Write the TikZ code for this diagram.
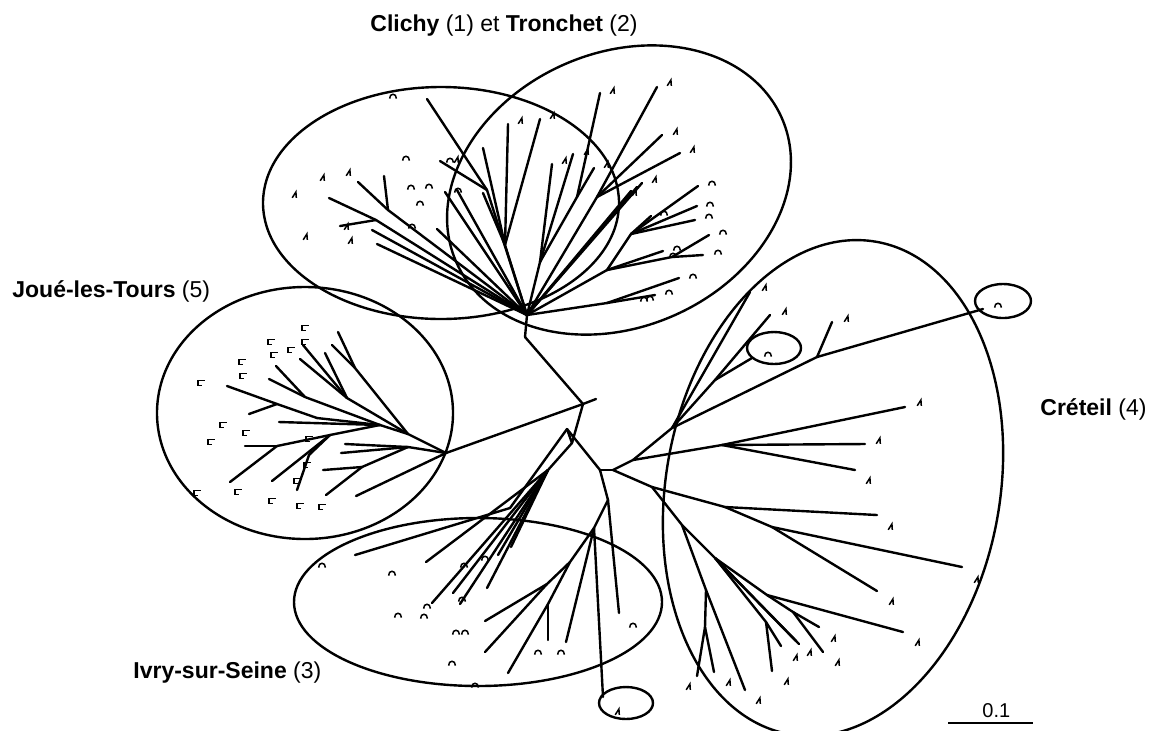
\documentclass[tikz,border=0pt]{standalone}
\usepackage{fontspec}
\setmainfont{Liberation Sans}
\begin{document}
\begin{tikzpicture}[x=0.5pt,y=-0.5pt,
  tree/.style={line width=1.2pt,line cap=round},
  ell/.style={line width=1.2pt},
  marklw/.style={line width=0.75pt},
  lab/.style={font=\fontsize{11.5}{13}\selectfont,inner sep=0pt,anchor=base west},
  tipA/.pic={\draw[marklw] (-2.8,2.8)--(0.9,-3)--(1.3,2.8);},
  tipC/.pic={\draw[marklw] (-3.4,2.6) .. controls (-3.6,-3.2) and (3.6,-3.2) .. (3.4,2.6);},
  tipF/.pic={\draw[marklw] (3.8,-2.6)--(-3.2,-2.6)--(-3.2,2.6)--(1.2,2.6);}]
\useasboundingbox (0,0) rectangle (1154,730);

% ---------- ellipses ----------
\draw[ell] (441,203) ellipse [x radius=178, y radius=116];
\draw[ell,rotate around={24:(619,190)}] (619,190) ellipse [x radius=178, y radius=137];
\draw[ell] (305,413) ellipse [x radius=148, y radius=126];
\draw[ell] (478,602) ellipse [x radius=184, y radius=84];
\draw[ell] (626,703) ellipse [x radius=27, y radius=16];
\draw[ell,rotate around={-10:(833,488)}] (833,488) ellipse [x radius=167, y radius=250];
\draw[ell] (774,348) ellipse [x radius=27, y radius=16];
\draw[ell] (1003,301) ellipse [x radius=28, y radius=17];

% ---------- labels ----------
\node[lab] (tclichy) at (370,31) {\textbf{Clichy} (1) et \textbf{Tronchet} (2)};
\node[lab] (tjoue) at (12,297) {\textbf{Joué-les-Tours} (5)};
\node[lab] (tcreteil) at (1040,415) {\textbf{Créteil} (4)};
\node[lab] (tivry) at (133,678) {\textbf{Ivry-sur-Seine} (3)};
\node[inner sep=0pt,anchor=base west,font=\fontsize{10}{12}\selectfont] (tscale) at (982,717) {0.1};
\coordinate (sb1) at (948,723);
\coordinate (sb2) at (1033,723);
\draw[line width=1.2pt] (sb1) -- (sb2);

% ---------- tree coordinates ----------
\foreach \n/\x/\y in {
  A/583/404, As/596/399, B/572/443, P/567/429, C/600/470, K/613/470, D/608/500,
  N1/525/337, H1/527/315, J/446/453,
  a1/408/434, a2/355/368, j1/338/332, j2/332/345, a3/347/398, j3/303/345, j4/325/353, j5/300/359,
  a4/380/425, j6/279/422, a5/305/397, j7/276/366, j8/269/379, a6/317/418, a7/277/404, j9/227/386, j10/249/414,
  b1/408/447, j11/345/444, j12/341/453, b2/362/467, j13/323/470, j14/326/495, j15/356/496,
  c1/330/435, c2/277/446, j16/245/446, j17/230/482, j18/272/481, c3/309/455, j19/297/490,
  I0/510/508, i1/355/555, Q/548/470, i2/426/562, i3/432/603, i4/453/593, i5/460/604, i6/487/588, i7/498/555, i8/511/547,
  i9/619/613, E/594/528, i10/603/697, i11/566/642, F/570/562, G/547/584, i14/485/621, i15/485/652, H/548/604, i13/508/673, i12/548/640,
  ca/487/190, cl1/427/99, cl2/440/161, cb/388/210, cl3/358/182, cl4/384/176, cc/376/220, cl5/329/198, cl6/340/226,
  cl7/372/230, cl8/377/244, cl9/437/229, cl10/445/192, cl11/457/190,
  ta/505/245, tr1/483/148, tr2/483/193, tr3/508/124, tr4/540/119,
  tb/540/262, tr5/552/164, tr6/573/154, tc/577/197, tr7/600/93, tr8/594/168,
  td/597/197, tr9/657/87, tr10/662/135, tr11/680/153,
  tr12/642/183, tr13/637/187, tr14/631/191,
  tg/607/270, te/631/234, tr15/698/186, tr16/697/206, tr17/695/220, tr18/651/216,
  tf/672/257, tr22/709/235, tr23/703/255, tr19/663/251,
  th/607/303, tr20/679/278, tr21/655/295,
  K2/633/460, K3/722/445, cr1/905/407, cr2/865/444, cr3/855/470,
  K4/672/428, cr4/750/292, K5/715/380, cr5/770/315, cr6/752/358, K6/817/357, cr7/832/322, cr8/983/309,
  L1/652/487, L2/725/507, cr9/877/515, L3/772/527, cr10/962/567, cr11/877/591,
  L4/682/525, L5/706/590, cr12/745/690, L6/705/627, cr13/697/676, cr14/714/672,
  L7/715/558, L8/767/595, cr15/903/632, L9/793/612, cr16/819/627, cr17/823/652,
  L10/766/622, cr18/772/671, cr19/781/646, cr20/796/641, cr21/799/644}
  \coordinate (\n) at (\x,\y);

% ---------- tree edges ----------
\foreach \a/\b in {
  A/As, A/N1, N1/H1, A/J, A/B, B/P, P/C, C/K, C/D,
  J/a1, a1/a2, a2/j1, a2/j2, a1/a3, a3/j3, a3/j4, a3/j5,
  a1/a4, a4/j6, a4/a5, a5/j7, a5/j8, a4/a6, a6/a7, a7/j9, a7/j10,
  J/b1, b1/j11, b1/j12, b1/b2, b2/j13, b2/j14, J/j15,
  a4/c1, c1/c2, c2/j16, c2/j17, c1/j18, c1/c3, c3/j19,
  P/I0, I0/i1, B/Q, Q/i2, Q/i3, Q/i4, Q/i5, Q/i6, Q/i7, Q/i8,
  D/i9, D/E, E/i10, E/i11, E/F, F/G, G/i14, G/i15, F/H, H/i13, H/i12,
  H1/ca, ca/cl1, ca/cl2, H1/cb, cb/cl3, cb/cl4, H1/cc, cc/cl5, cc/cl6,
  H1/cl7, H1/cl8, H1/cl9, H1/cl10, H1/cl11,
  H1/ta, ta/tr1, ta/tr2, ta/tr3, ta/tr4,
  H1/tb, tb/tr5, tb/tr6, tb/tc, tc/tr7, tc/tr8,
  H1/td, td/tr9, td/tr10, td/tr11,
  H1/tr12, H1/tr13, H1/tr14,
  H1/tg, tg/te, te/tr15, te/tr16, te/tr17, te/tr18,
  tg/tf, tf/tr22, tf/tr23, tg/tr19,
  H1/th, th/tr20, th/tr21,
  K/K2, K2/K3, K3/cr1, K3/cr2, K3/cr3,
  K2/K4, K4/cr4, K4/K5, K5/cr5, K5/cr6, K4/K6, K6/cr7, K6/cr8,
  K/L1, L1/L2, L2/cr9, L2/L3, L3/cr10, L3/cr11,
  L1/L4, L4/L5, L5/cr12, L5/L6, L6/cr13, L6/cr14,
  L4/L7, L7/L8, L8/cr15, L8/L9, L9/cr16, L9/cr17,
  L7/L10, L10/cr18, L10/cr19, L7/cr20, L7/cr21}
  \draw[tree] (\a) -- (\b);

% ---------- tip marks ----------
\foreach \x/\y in {323/178, 349/173, 295/195, 347/227, 306/237, 351/241, 457/160,
  521/121, 553/116, 613/91, 670/83, 676/132, 693/150, 565/161, 587/152, 607/165,
  655/180, 635/193,
  765/288, 785/312, 847/319, 920/403, 879/441, 869/481, 891/527, 892/602, 977/580,
  918/643, 834/639, 838/663, 796/658, 810/653, 787/682, 729/683, 689/687, 759/701,
  618/712}
  \pic at (\x,\y) {tipA};
\foreach \x/\y in {393/96, 406/158, 450/160, 411/187, 429/186, 420/203, 458/190, 412/226,
  712/183, 710/204, 709/216, 723/232, 664/213, 677/248, 673/255, 718/252, 693/276,
  669/292, 644/299, 650/298,
  998/305, 768/354,
  322/565, 392/573, 464/565, 485/558, 427/606, 398/615, 424/616, 462/599, 456/632,
  465/632, 452/663, 475/685, 538/652, 561/652, 633/625}
  \pic at (\x,\y) {tipC};
\foreach \x/\y in {305/328, 271/342, 305/342, 291/350, 274/355, 242/362, 243/376, 201/383,
  223/425, 246/433, 211/442, 309/439, 307/465, 297/481, 197/493, 238/492, 272/501,
  300/506, 322/507}
  \pic at (\x,\y) {tipF};
\end{tikzpicture}
\end{document}
